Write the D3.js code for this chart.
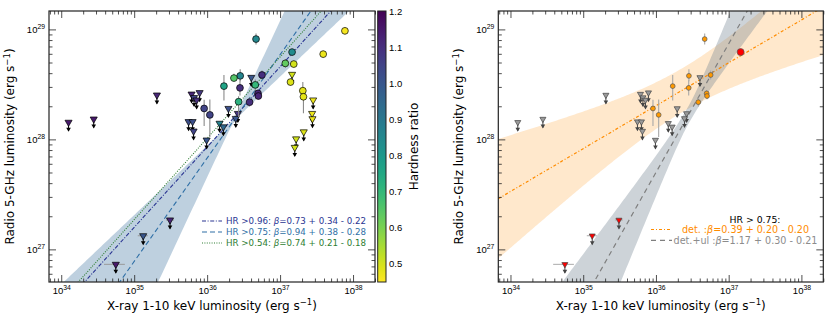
<!DOCTYPE html>
<html>
<head>
<meta charset="utf-8">
<script src="https://cdn.jsdelivr.net/npm/d3@7"></script>
<style>
body { margin: 0; background: #fff; }
svg { font-family: 'DejaVu Sans', sans-serif; }
</style>
</head>
<body>
<svg id="chart" width="830" height="320"></svg>
<script>
// Detections (circles): X-ray and radio luminosity, erg/s
var detLx = [4.68e36, 1.46e37, 1.18e37, 1.54e37, 1.39e37, 2.05e37, 2.09e37, 3.90e37, 7.74e37, 5.65e36, 4.57e36,
  4.98e36, 5.04e36, 2.84e36, 2.33e36, 1.70e36, 2.82e36, 2.70e36, 3.82e36, 9.10e35, 1.09e36]
var detLr = [8.17e28, 6.22e28, 4.91e28, 4.84e28, 3.32e28, 2.77e28, 2.44e28, 5.96e28, 9.70e28, 3.85e28, 3.13e28,
  2.62e28, 2.48e28, 3.78e28, 3.61e28, 3.05e28, 2.94e28, 2.20e28, 2.18e28, 1.91e28, 1.67e28]
// radio error bars, dex
var detErrUp = [0.05, 0.03, 0.04, 0.03, 0.03, 0.08, 0.04, 0.03, 0.03, 0.04, 0.05,
  0.03, 0.03, 0.06, 0.04, 0.10, 0.07, 0.05, 0.04, 0.08, 0.14]
var detErrDn = [0.05, 0.03, 0.04, 0.03, 0.03, 0.04, 0.15, 0.03, 0.03, 0.04, 0.06,
  0.03, 0.03, 0.05, 0.03, 0.13, 0.07, 0.14, 0.04, 0.16, 0.20]
var detHR = [0.85, 0.84, 0.63, 0.50, 0.49, 0.48, 0.48, 0.47, 0.46, 1.10, 0.70,
  1.12, 1.12, 0.86, 0.65, 0.76, 1.10, 0.72, 1.10, 1.05, 1.05]
var detRed = [false, true, false, false, false, false, false, false, false, false, false,
  false, false, false, false, false, false, false, false, false, false]

// Radio upper limits (triangles)
var ulLx = [1.26e34, 2.79e34, 2.05e35, 6.12e35, 6.62e35, 7.89e35, 7.18e35, 5.57e35, 6.32e35, 6.52e35, 9.84e35,
  1.96e36, 1.48e36, 1.67e36, 2.64e36, 2.47e36, 4.03e36, 1.46e37, 2.84e37, 2.75e37, 2.78e37, 2.11e37,
  1.66e37, 1.59e37, 5.60e34, 1.33e35, 3.10e35]
var ulLr = [1.43e28, 1.53e28, 2.53e28, 2.58e28, 2.40e28, 2.66e28, 2.28e28, 1.45e28, 1.45e28, 1.19e28, 9.86e27,
  1.91e28, 1.40e28, 1.30e28, 1.72e28, 1.55e28, 3.66e28, 3.90e28, 2.28e28, 1.72e28, 1.54e28, 1.17e28,
  1.01e28, 8.45e27, 7.31e26, 1.33e27, 1.85e27]
var ulHR = [1.15, 1.15, 1.12, 1.12, 1.05, 1.08, 1.10, 1.02, 1.02, 1.05, 1.00,
  1.02, 0.87, 0.95, 1.08, 1.00, 1.00, 0.50, 0.47, 0.47, 0.47, 0.49,
  0.50, 0.50, 1.15, 1.00, 1.12]
var ulXLo = [null, null, null, null, null, null, null, null, null, null, null,
  null, null, null, null, null, null, null, null, null, null, null,
  null, null, 3.86e34, 1.12e35, 2.73e35]
var ulXHi = [null, null, null, null, null, null, null, null, null, null, null,
  null, null, null, null, null, null, null, null, null, null, null,
  null, null, 7.45e34, 1.54e35, 3.52e35]
var ulRed = ulLx.map(function (d, i) { return i >= 24 })

// Fits, left panel: log Lr = norm + slope * (log Lx - 36)
var fitLabel = ['HR >0.96: ', 'HR >0.75: ', 'HR >0.54: ']
var fitSlope = [0.73, 0.94, 0.74]
var fitErrUp = [0.34, 0.38, 0.21]
var fitErrDn = [0.22, 0.28, 0.18]
var fitNorm = [27.93, 27.83, 28.01]

// Fits, right panel
var rFitLabel = ['det. :', 'det.+ul :']
var rFitSlope = [0.39, 1.17]
var rFitErrUp = [0.20, 0.30]
var rFitErrDn = [0.20, 0.21]
var rFitNorm = [28.306, 27.699]

// confidence bands: pivot log Lx, width at pivot, slope spread up / down
var bandPivot = [36.36, 36.36, 36.45]
var bandWidth0 = [0.02, 0.20, 0.08]
var bandSPlus = [0.48, 0.20, 0.45]
var bandSMinus = [0.31, 0.20, 0.29]

var xTicks = [1e34, 1e35, 1e36, 1e37, 1e38]
var yTicks = [1e27, 1e28, 1e29]
var hrTicks = [0.5, 0.6, 0.7, 0.8, 0.9, 1.0, 1.1, 1.2]
var hrRange = [0.449, 1.2]

var xDomain = [6.8e33, 2.0e38]
var yDomain = [5.05e26, 1.47e29]

var svg = d3.select('#chart')

function hrColor (v) {
  var t = (v - hrRange[0]) / (hrRange[1] - hrRange[0])
  return d3.interpolateViridis(1 - Math.max(0, Math.min(1, t)))
}

function minorTicks (dom) {
  var out = []
  for (var e = 26; e <= 39; e++) {
    for (var k = 2; k <= 9; k++) {
      var v = k * Math.pow(10, e)
      if (v >= dom[0] && v <= dom[1]) out.push(v)
    }
  }
  return out
}

function powLabel (sel) {
  sel.each(function (d) {
    var t = d3.select(this)
    var e = Math.round(Math.log10(d))
    t.text(null)
    t.append('tspan').text('10')
    t.append('tspan').attr('dy', '-0.55em').attr('font-size', '6.8px').text(e)
  })
}

function makePanel (p, id) {
  var x = d3.scaleLog().domain(xDomain).range([p.x0, p.x1])
  var y = d3.scaleLog().domain(yDomain).range([p.y1, p.y0])
  var g = svg.append('g')
  g.append('clipPath').attr('id', id)
    .append('rect').attr('x', p.x0).attr('y', p.y0)
    .attr('width', p.x1 - p.x0).attr('height', p.y1 - p.y0)
  var plot = g.append('g').attr('clip-path', 'url(#' + id + ')')
  return { x: x, y: y, g: g, plot: plot, p: p }
}

function drawFrame (P) {
  var p = P.p
  var axes = P.g.append('g').attr('class', 'axes')
  var mx = minorTicks(xDomain)
  var my = minorTicks(yDomain)
  function put (axis, tr) {
    var a = axes.append('g').attr('transform', tr).call(axis)
    a.select('.domain').remove()
    a.selectAll('line').attr('stroke', '#222').attr('stroke-width', 0.8)
    return a
  }
  var bx = put(d3.axisBottom(P.x).tickValues(xTicks).tickSize(-7).tickPadding(5), 'translate(0,' + p.y1 + ')')
  bx.selectAll('text').attr('font-size', '9.5px').attr('fill', '#000').call(powLabel)
  put(d3.axisBottom(P.x).tickValues(mx).tickSize(-3.5).tickFormat(''), 'translate(0,' + p.y1 + ')')
  put(d3.axisTop(P.x).tickValues(xTicks).tickSize(-7).tickFormat(''), 'translate(0,' + p.y0 + ')')
  put(d3.axisTop(P.x).tickValues(mx).tickSize(-3.5).tickFormat(''), 'translate(0,' + p.y0 + ')')
  var ly = put(d3.axisLeft(P.y).tickValues(yTicks).tickSize(-7).tickPadding(4), 'translate(' + p.x0 + ',0)')
  ly.selectAll('text').attr('font-size', '9.5px').attr('fill', '#000').call(powLabel)
  put(d3.axisLeft(P.y).tickValues(my).tickSize(-3.5).tickFormat(''), 'translate(' + p.x0 + ',0)')
  put(d3.axisRight(P.y).tickValues(yTicks).tickSize(-7).tickFormat(''), 'translate(' + p.x1 + ',0)')
  put(d3.axisRight(P.y).tickValues(my).tickSize(-3.5).tickFormat(''), 'translate(' + p.x1 + ',0)')
  P.g.append('rect').attr('x', p.x0).attr('y', p.y0)
    .attr('width', p.x1 - p.x0).attr('height', p.y1 - p.y0)
    .attr('fill', 'none').attr('stroke', '#222').attr('stroke-width', 1.2)

  // axis titles
  var cx = (p.x0 + p.x1) / 2
  var xt = P.g.append('text').attr('x', cx).attr('y', 309.5).attr('text-anchor', 'middle')
    .attr('font-size', '12px')
  xt.append('tspan').text('X-ray 1-10 keV luminosity (erg s')
  xt.append('tspan').attr('dy', -4.5).attr('font-size', '8.5px').text('\u22121')
  xt.append('tspan').attr('dy', 4.5).text(')')
  var cy = (p.y0 + p.y1) / 2
  var yt = P.g.append('text').attr('transform', 'translate(' + (p.x0 - 35) + ',' + cy + ') rotate(-90)')
    .attr('text-anchor', 'middle').attr('font-size', '12px')
  yt.append('tspan').text('Radio 5-GHz luminosity (erg s')
  yt.append('tspan').attr('dy', -4.5).attr('font-size', '8.5px').text('\u22121')
  yt.append('tspan').attr('dy', 4.5).text(')')
}

var logX = d3.range(0, 201).map(function (i) {
  var a = Math.log10(xDomain[0])
  var b = Math.log10(xDomain[1])
  return a + (b - a) * i / 200
})

function drawBand (P, norm, slope, bi, fill, op) {
  function half (lx, up) {
    var dx = lx - bandPivot[bi]
    var s = (dx > 0) === up ? bandSPlus[bi] : bandSMinus[bi]
    return Math.sqrt(bandWidth0[bi] * bandWidth0[bi] + s * s * dx * dx)
  }
  var area = d3.area()
    .x(function (d) { return P.x(Math.pow(10, d)) })
    .y0(function (d) { return P.y(Math.pow(10, norm + slope * (d - 36) - half(d, false))) })
    .y1(function (d) { return P.y(Math.pow(10, norm + slope * (d - 36) + half(d, true))) })
  P.plot.append('path').datum(logX).attr('d', area)
    .attr('fill', fill).attr('fill-opacity', op).attr('stroke', 'none')
}

function drawFit (P, norm, slope, color, dash, w) {
  var line = d3.line()
    .x(function (d) { return P.x(Math.pow(10, d)) })
    .y(function (d) { return P.y(Math.pow(10, norm + slope * (d - 36))) })
  P.plot.append('path').datum([logX[0], logX[logX.length - 1]]).attr('d', line)
    .attr('fill', 'none').attr('stroke', color).attr('stroke-width', w || 1.1)
    .attr('stroke-dasharray', dash)
}

function drawUpperLimits (P, idx, opt) {
  var g = P.plot.append('g')
  idx.forEach(function (i) {
    var cx = P.x(ulLx[i])
    var cy = P.y(ulLr[i])
    if (ulXLo[i] !== null) {
      g.append('line').attr('x1', P.x(ulXLo[i])).attr('x2', P.x(ulXHi[i]))
        .attr('y1', cy).attr('y2', cy).attr('stroke', opt.errColor).attr('stroke-width', 1)
    }
    g.append('line').attr('x1', cx).attr('x2', cx).attr('y1', cy).attr('y2', cy + 8.5)
      .attr('stroke', opt.arrow).attr('stroke-width', 1)
    g.append('path')
      .attr('d', 'M' + (cx - 2.3) + ',' + (cy + 5.5) + 'L' + cx + ',' + (cy + 9.5) + 'L' + (cx + 2.3) + ',' + (cy + 5.5) + 'Z')
      .attr('fill', opt.arrow)
    g.append('path')
      .attr('d', d3.symbol(d3.symbolTriangle, opt.size)())
      .attr('transform', 'translate(' + cx + ',' + cy + ') rotate(180)')
      .attr('fill', opt.fill(i)).attr('stroke', opt.stroke).attr('stroke-width', 0.7)
  })
}

function drawDetections (P, idx, opt) {
  var g = P.plot.append('g')
  idx.forEach(function (i) {
    var cx = P.x(detLx[i])
    var lr = Math.log10(detLr[i])
    g.append('line').attr('x1', cx).attr('x2', cx)
      .attr('y1', P.y(Math.pow(10, lr - detErrDn[i])))
      .attr('y2', P.y(Math.pow(10, lr + detErrUp[i])))
      .attr('stroke', opt.errColor).attr('stroke-width', 1.1)
  })
  idx.forEach(function (i) {
    g.append('circle').attr('cx', P.x(detLx[i])).attr('cy', P.y(detLr[i]))
      .attr('r', opt.r(i)).attr('fill', opt.fill(i))
      .attr('stroke', opt.stroke).attr('stroke-width', 0.7)
  })
}

// ---------- left panel ----------
var left = makePanel({ x0: 49, x1: 375, y0: 11, y1: 282 }, 'clipL')
var fitColor = ['#2a3592', '#2f6fa6', '#2e7d32']
var fitDash = ['4,1.6,1,1.6', '5,3', '1,1.4']

drawBand(left, fitNorm[1], fitSlope[1], 0, '#4f7fa8', 0.37)
fitSlope.forEach(function (s, i) { drawFit(left, fitNorm[i], s, fitColor[i], fitDash[i]) })

var allDet = d3.range(detLx.length)
var allUl = d3.range(ulLx.length)
drawUpperLimits(left, allUl, {
  size: 22, stroke: '#000', arrow: '#000', errColor: '#999',
  fill: function (i) { return hrColor(ulHR[i]) }
})
drawDetections(left, allDet, {
  errColor: '#8a8a8a', stroke: '#000',
  r: function () { return 3.4 },
  fill: function (i) { return hrColor(detHR[i]) }
})
drawFrame(left)

// legend, left
var legL = left.g.append('g')
fitLabel.forEach(function (lab, i) {
  var yy = 221 + i * 11
  legL.append('line').attr('x1', 202).attr('x2', 222).attr('y1', yy).attr('y2', yy)
    .attr('stroke', fitColor[i]).attr('stroke-width', 1.1).attr('stroke-dasharray', fitDash[i])
  var t = legL.append('text').attr('x', 226).attr('y', yy + 3.2)
    .attr('font-size', '8.7px').attr('fill', fitColor[i])
  t.append('tspan').text(lab)
  t.append('tspan').attr('font-style', 'italic').text('\u03b2')
  t.append('tspan').text('=' + fitSlope[i].toFixed(2) + ' + ' + fitErrUp[i].toFixed(2) + ' - ' + fitErrDn[i].toFixed(2))
})

// colorbar
var cb = { x0: 377.7, x1: 386, y0: 11, y1: 282 }
var hrScale = d3.scaleLinear().domain(hrRange).range([cb.y1, cb.y0])
var grad = svg.append('defs').append('linearGradient').attr('id', 'hrGrad')
  .attr('x1', 0).attr('x2', 0).attr('y1', 1).attr('y2', 0)
d3.range(0, 21).forEach(function (k) {
  var v = hrRange[0] + (hrRange[1] - hrRange[0]) * k / 20
  grad.append('stop').attr('offset', (k / 20)).attr('stop-color', hrColor(v))
})
svg.append('rect').attr('x', cb.x0).attr('y', cb.y0).attr('width', cb.x1 - cb.x0)
  .attr('height', cb.y1 - cb.y0).attr('fill', 'url(#hrGrad)')
  .attr('stroke', '#222').attr('stroke-width', 1)
var cbAxis = svg.append('g').attr('transform', 'translate(' + cb.x1 + ',0)')
  .call(d3.axisRight(hrScale).tickValues(hrTicks).tickSize(0).tickPadding(3).tickFormat(d3.format('.1f')))
cbAxis.select('.domain').remove()
cbAxis.selectAll('text').attr('font-size', '9.5px').attr('fill', '#000')
svg.append('text').attr('transform', 'translate(414,' + ((cb.y0 + cb.y1) / 2) + ') rotate(-90)')
  .attr('text-anchor', 'middle').attr('dy', '0.35em').attr('font-size', '12px').text('Hardness ratio')

// ---------- right panel ----------
var right = makePanel({ x0: 498.3, x1: 823.3, y0: 11, y1: 282 }, 'clipR')
var rColor = ['#ff8c00', '#7f7f7f']
var rDash = ['3,2,1,2', '5,4']
drawBand(right, rFitNorm[0], rFitSlope[0], 1, '#ff8c00', 0.2)
drawBand(right, rFitNorm[1], rFitSlope[1], 2, '#708090', 0.35)
rFitSlope.forEach(function (s, i) { drawFit(right, rFitNorm[i], s, rColor[i], rDash[i], 1.2) })

var hardUl = allUl.filter(function (i) { return ulHR[i] > 0.75 })
var hardDet = allDet.filter(function (i) { return detHR[i] > 0.75 })
drawUpperLimits(right, hardUl, {
  size: 16, stroke: '#444', arrow: '#444', errColor: '#aaa',
  fill: function (i) { return ulRed[i] ? '#ff0000' : '#9a9a9a' }
})
drawDetections(right, hardDet, {
  errColor: '#a8a8a8', stroke: '#555',
  r: function (i) { return detRed[i] ? 3.5 : 2.4 },
  fill: function (i) { return detRed[i] ? '#ff0000' : '#ff9900' }
})
drawFrame(right)

// legend, right
var legR = right.g.append('g')
legR.append('text').attr('x', 755).attr('y', 223).attr('text-anchor', 'middle')
  .attr('font-size', '9.3px').attr('fill', '#000').text('HR > 0.75:')
rFitLabel.forEach(function (lab, i) {
  var yy = 229.5 + i * 10.8
  legR.append('line').attr('x1', 651).attr('x2', 672).attr('y1', yy).attr('y2', yy)
    .attr('stroke', rColor[i]).attr('stroke-width', 1.2).attr('stroke-dasharray', rDash[i])
  var t = legR.append('text').attr('x', 745.5).attr('y', yy + 3.4).attr('text-anchor', 'middle')
    .attr('font-size', '9.6px').attr('fill', i === 0 ? '#ff8c00' : '#8c8c8c')
  t.append('tspan').text(lab)
  t.append('tspan').attr('font-style', 'italic').text('\u03b2')
  t.append('tspan').text('=' + rFitSlope[i].toFixed(2) + ' + ' + rFitErrUp[i].toFixed(2) + ' - ' + rFitErrDn[i].toFixed(2))
})
</script>
</body>
</html>
